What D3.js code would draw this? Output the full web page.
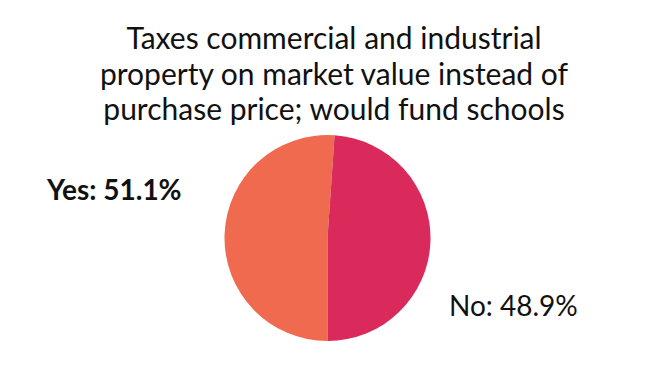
<!DOCTYPE html>
<html>
<head>
<meta charset="utf-8">
<script src="https://d3js.org/d3.v7.min.js"></script>
<style>
  body { margin: 0; background: #fff; }
  svg { display: block; }
</style>
</head>
<body>
<svg width="648" height="365"></svg>
<script>
// chart data
const categories = ["Yes", "No"];
const shares = [51.1, 48.9];
const colours = ["#ef6a4e", "#da2a5b"];
const titleLines = [
  "Taxes commercial and industrial",
  "property on market value instead of",
  "purchase price; would fund schools"
];

const svg = d3.select("svg");
const font = "Lato, 'Noto Sans', sans-serif";

// title
svg.append("text")
  .attr("x", 334)
  .attr("y", 49)
  .attr("text-anchor", "middle")
  .style("font-family", font)
  .style("font-size", "30px")
  .style("fill", "#111")
  .selectAll("tspan")
  .data(titleLines)
  .join("tspan")
  .attr("x", 334)
  .attr("dy", (d, i) => i === 0 ? 0 : 35.5)
  .text(d => d);

// pie, Yes starts at the bottom and runs clockwise
const cx = 327.5, cy = 238, r = 103;
const pie = d3.pie().sort(null).startAngle(Math.PI).endAngle(3 * Math.PI);
const arc = d3.arc().innerRadius(0).outerRadius(r);
const color = d3.scaleOrdinal().domain(categories).range(colours);

svg.append("g")
  .attr("transform", `translate(${cx},${cy})`)
  .selectAll("path")
  .data(pie(shares))
  .join("path")
  .attr("d", arc)
  .attr("fill", (d, i) => color(categories[i]));

// labels
svg.append("text")
  .attr("x", 47)
  .attr("y", 200)
  .style("font-family", font)
  .style("font-size", "28px")
  .style("font-weight", "bold")
  .style("fill", "#111")
  .text(categories[0] + ": " + shares[0].toFixed(1) + "%");

svg.append("text")
  .attr("x", 449)
  .attr("y", 316)
  .style("font-family", font)
  .style("font-size", "28px")
  .style("fill", "#111")
  .text(categories[1] + ": " + shares[1].toFixed(1) + "%");
</script>
</body>
</html>
